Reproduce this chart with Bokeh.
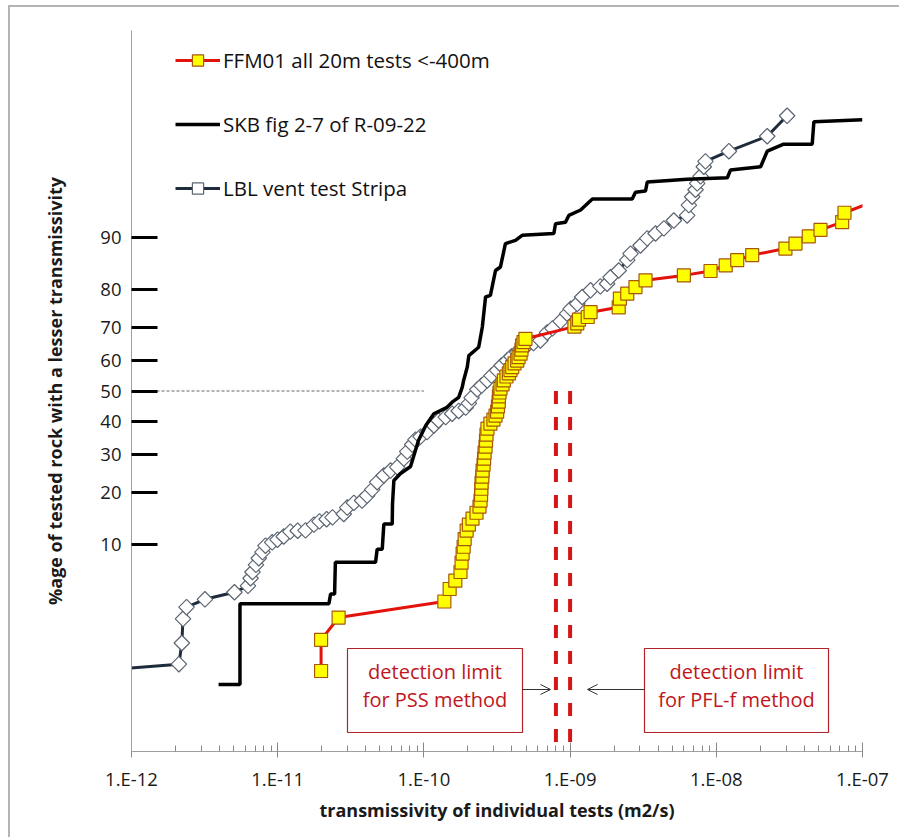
import math
from statistics import NormalDist
from bokeh.plotting import figure
from bokeh.models import (ColumnDataSource, FixedTicker, CustomJSTickFormatter, Legend,
                          LegendItem, BoxAnnotation, Label, Arrow, OpenHead, Range1d)
from bokeh.embed import file_html
from bokeh.resources import INLINE

# ---------------- data ----------------
ffm_T = [1.98e-11, 1.98e-11, 2.61e-11, 1.38e-10, 1.50e-10, 1.64e-10, 1.78e-10, 1.81e-10, 1.84e-10, 1.87e-10,
         1.90e-10, 1.96e-10, 2.03e-10, 2.15e-10, 2.29e-10, 2.40e-10, 2.44e-10, 2.46e-10, 2.47e-10, 2.48e-10,
         2.51e-10, 2.52e-10, 2.56e-10, 2.58e-10, 2.60e-10, 2.64e-10, 2.66e-10, 2.68e-10, 2.72e-10, 2.85e-10,
         2.99e-10, 3.09e-10, 3.17e-10, 3.21e-10, 3.25e-10, 3.26e-10, 3.29e-10, 3.34e-10, 3.45e-10, 3.52e-10,
         3.67e-10, 3.81e-10, 3.91e-10, 4.02e-10, 4.17e-10, 4.35e-10, 4.44e-10, 4.58e-10, 4.65e-10, 4.70e-10,
         4.80e-10, 4.95e-10, 1.07e-9, 1.12e-9, 1.15e-9, 1.32e-9, 1.38e-9, 2.15e-9, 2.19e-9, 2.46e-9,
         2.80e-9, 3.28e-9, 6.00e-9, 9.13e-9, 1.16e-8, 1.39e-8, 1.76e-8, 2.97e-8, 3.48e-8, 4.29e-8,
         5.16e-8, 7.26e-8, 7.53e-8, 1.33e-7]
ffm_pct = [0.99, 1.92, 2.97, 3.99, 4.97, 5.72, 6.6, 7.65, 8.8, 9.75,
           10.9, 12.25, 13.3, 14.4, 15.55, 16.8, 18.1, 19.4, 20.8, 22.3,
           23.8, 25.4, 27.0, 28.7, 30.4, 32.2, 34.0, 35.85, 37.7, 39.3,
           40.6, 41.9, 43.2, 44.9, 46.5, 48.2, 49.5, 50.8, 52.2, 53.5,
           54.8, 55.8, 56.9, 57.9, 59.1, 60.0, 61.1, 62.2, 63.5, 64.8,
           65.8, 66.8, 70.4, 71.3, 72.4, 73.1, 74.4, 75.7, 77.9, 79.1,
           80.65, 82.15, 83.2, 84.1, 85.2, 86.2, 87.1, 88.2, 89.0, 90.1,
           91.0, 92.0, 93.1, 94.5]

skb_T = [3.94e-12, 5.52e-12, 5.52e-12, 2.24e-11, 2.30e-11, 2.45e-11, 2.48e-11, 4.67e-11, 4.79e-11, 5.19e-11,
         5.32e-11, 6.07e-11, 6.10e-11, 6.23e-11, 6.92e-11, 8.10e-11, 9.18e-11, 1.03e-10, 1.17e-10, 1.44e-10,
         1.56e-10, 1.73e-10, 1.83e-10, 1.87e-10, 1.98e-10, 2.03e-10, 2.37e-10, 2.51e-10, 2.64e-10, 2.85e-10,
         3.09e-10, 3.34e-10, 3.61e-10, 4.23e-10, 4.70e-10, 7.74e-10, 7.95e-10, 9.30e-10, 9.80e-10, 1.18e-9,
         1.42e-9, 2.66e-9, 2.80e-9, 3.28e-9, 3.37e-9, 6.32e-9, 1.19e-8, 1.25e-8, 2.01e-8, 2.23e-8,
         2.89e-8, 4.53e-8, 4.65e-8, 1.0e-7]
skb_pct = [0.73, 0.73, 3.83, 3.83, 4.55, 4.55, 7.7, 7.7, 9.4, 9.4,
           13.4, 13.4, 17.4, 22.8, 24.6, 26.5, 34.0, 38.7, 42.5, 44.6,
           46.3, 47.9, 51.3, 53.5, 57.9, 61.6, 64.2, 70.3, 78.3, 78.7,
           84.2, 84.9, 89.0, 89.5, 90.25, 90.5, 91.8, 92.0, 92.8, 93.4,
           94.5, 94.5, 95.1, 95.2, 95.9, 96.1, 96.2, 96.7, 96.9, 97.7,
           98.0, 98.0, 98.75, 98.8]

lbl_T = [6.0e-13, 2.11e-12, 2.21e-12, 2.25e-12, 2.38e-12, 3.18e-12, 5.06e-12, 6.26e-12, 6.52e-12, 6.72e-12,
         7.10e-12, 7.42e-12, 7.87e-12, 8.25e-12, 9.17e-12, 9.97e-12, 1.10e-11, 1.22e-11, 1.37e-11, 1.55e-11,
         1.77e-11, 1.93e-11, 2.16e-11, 2.37e-11, 2.83e-11, 2.99e-11, 3.32e-11, 3.78e-11, 4.09e-11, 4.43e-11,
         4.79e-11, 5.32e-11, 5.91e-11, 6.57e-11, 7.29e-11, 7.69e-11, 8.32e-11, 8.76e-11, 9.48e-11, 1.05e-10,
         1.17e-10, 1.26e-10, 1.41e-10, 1.56e-10, 1.73e-10, 1.93e-10, 2.03e-10, 2.12e-10, 2.32e-10, 2.48e-10,
         2.71e-10, 2.90e-10, 3.17e-10, 3.40e-10, 3.71e-10, 3.97e-10, 4.35e-10, 4.65e-10, 5.09e-10, 5.62e-10,
         6.27e-10, 6.97e-10, 7.58e-10, 8.60e-10, 9.55e-10, 1.01e-9, 1.12e-9, 1.21e-9, 1.38e-9, 1.61e-9,
         1.79e-9, 1.89e-9, 2.15e-9, 2.46e-9, 2.59e-9, 3.03e-9, 3.37e-9, 3.84e-9, 4.38e-9, 5.12e-9,
         6.32e-9, 6.49e-9, 6.84e-9, 7.21e-9, 7.40e-9, 7.80e-9, 8.21e-9, 8.43e-9, 1.22e-8, 2.23e-8,
         3.05e-8]
lbl_pct = [1.0, 1.15, 1.8, 2.9, 3.6, 4.15, 4.7, 5.25, 5.96, 6.6,
           7.4, 8.2, 9.0, 9.9, 10.4, 10.8, 11.3, 12.1, 12.25, 12.3,
           13.3, 13.9, 14.3, 14.65, 15.3, 16.6, 17.6, 18.1, 19.2, 20.6,
           22.4, 24.1, 25.4, 26.3, 28.7, 30.7, 32.8, 34.3, 35.2, 36.6,
           38.7, 40.3, 41.4, 42.5, 43.4, 44.5, 45.9, 47.8, 50.5, 51.8,
           53.5, 55.1, 56.8, 58.4, 60.0, 61.3, 62.7, 63.8, 64.8, 65.5,
           66.3, 68.7, 69.9, 71.9, 74.0, 75.3, 76.6, 78.3, 79.9, 80.8,
           81.4, 82.8, 84.2, 86.2, 87.35, 88.7, 89.8, 90.5, 91.2, 92.2,
           92.8, 93.9, 94.7, 95.3, 95.8, 96.3, 96.9, 97.2, 97.7, 98.3,
           98.9]

pct_ticks = [10, 20, 30, 40, 50, 60, 70, 80, 90]
x_ticks = [1e-12, 1e-11, 1e-10, 1e-9, 1e-8, 1e-7]
detection_limits = [8e-10, 1e-9]
median_pct = 50
median_line_T = [1e-12, 1e-10]

series_names = ["FFM01 all 20m tests <-400m", "SKB fig 2-7 of R-09-22", "LBL vent test Stripa"]
x_title = "transmissivity of individual tests (m2/s)"
y_title = "%age of tested rock with a lesser transmissivity"
box_texts = [["detection limit", "for PSS method"], ["detection limit", "for PFL-f method"]]

# ---------------- probability (normal-score) transform ----------------
nd = NormalDist()
def z(p):
    return nd.inv_cdf(p / 100.0)

FONT = "Open Sans"

# page: 8px left margin + 2px border, 5px top margin + 2px border
p = figure(width=891, height=832, x_axis_type="log",
           x_range=Range1d(1e-12, 1e-7), y_range=Range1d(-3, 3),
           output_backend="svg", toolbar_location=None,
           min_border_left=121, min_border_right=39, min_border_top=23, min_border_bottom=88)
p.margin = (5, 0, 0, 8)
p.styles = {"border-left": "2px solid #b4b4b4", "border-top": "2px solid #b4b4b4"}
p.grid.visible = False
p.outline_line_color = None
p.background_fill_color = "white"
p.border_fill_color = "white"

# axes
tick_z = [z(v) for v in pct_ticks]
p.yaxis.ticker = FixedTicker(ticks=tick_z, minor_ticks=[])
p.yaxis.formatter = CustomJSTickFormatter(args=dict(zs=tick_z, labs=[str(v) for v in pct_ticks]), code="""
let best = 0;
for (let i = 0; i < zs.length; i++) {
  if (Math.abs(zs[i] - tick) < Math.abs(zs[best] - tick)) { best = i; }
}
return labs[best];
""")
p.yaxis.major_tick_in = 26
p.yaxis.major_tick_out = 0
p.yaxis.major_tick_line_width = 3
p.yaxis.major_tick_line_color = "black"
p.yaxis.axis_line_color = "#a0a0a0"
p.yaxis.major_label_standoff = 10
p.yaxis.axis_label = y_title
p.yaxis.axis_label_standoff = 30

x_minor = [k * t for t in x_ticks[:-1] for k in range(2, 10)]
p.xaxis.ticker = FixedTicker(ticks=x_ticks, minor_ticks=x_minor)
p.xaxis.formatter = CustomJSTickFormatter(code="""
const e = Math.round(Math.log10(tick));
const a = Math.abs(e);
return "1.E" + (e < 0 ? "-" : "+") + (a < 10 ? "0" + a : "" + a);
""")
p.xaxis.major_tick_in = 9
p.xaxis.major_tick_out = 6
p.xaxis.minor_tick_in = 6
p.xaxis.minor_tick_out = 0
p.xaxis.major_tick_line_color = "#888888"
p.xaxis.minor_tick_line_color = "#888888"
p.xaxis.axis_line_color = "#a0a0a0"
p.xaxis.major_label_standoff = 8
p.xaxis.axis_label = x_title
p.xaxis.axis_label_standoff = 4

for ax in (p.xaxis, p.yaxis):
    ax.major_label_text_font = FONT
    ax.major_label_text_font_size = "18.5px"
    ax.major_label_text_color = "#1a1a1a"
    ax.axis_label_text_font = FONT
    ax.axis_label_text_font_size = "18px"
    ax.axis_label_text_font_style = "bold"
    ax.axis_label_text_color = "#1a1a1a"

# 50% reference line
p.line(median_line_T, [z(median_pct)] * 2, line_color="#666666", line_width=1, line_dash="3 2")

# detection limit lines (from 50% downwards)
for dl in detection_limits:
    p.line([dl, dl], [z(median_pct), z(0.05)], line_color="#d41616", line_width=4, line_dash="13 13")

# series
lbl_src = ColumnDataSource(dict(x=lbl_T, y=[z(v) for v in lbl_pct]))
skb_src = ColumnDataSource(dict(x=skb_T, y=[z(v) for v in skb_pct]))
ffm_src = ColumnDataSource(dict(x=ffm_T, y=[z(v) for v in ffm_pct]))

lbl_line = p.line("x", "y", source=lbl_src, line_color="#1d2b3a", line_width=3)
lbl_pts = p.scatter("x", "y", source=lbl_src, marker="square", angle=math.pi / 4, size=11,
                    fill_color="white", line_color="#5c6672", line_width=1.2)
skb_line = p.line("x", "y", source=skb_src, line_color="black", line_width=3.5)
ffm_line = p.line("x", "y", source=ffm_src, line_color="#e3120b", line_width=3)
ffm_pts = p.scatter("x", "y", source=ffm_src, marker="square", size=13,
                    fill_color="#ffff00", line_color="#a8570a", line_width=1.2)

legend = Legend(items=[LegendItem(label=series_names[0], renderers=[ffm_line, ffm_pts]),
                       LegendItem(label=series_names[1], renderers=[skb_line]),
                       LegendItem(label=series_names[2], renderers=[lbl_line, lbl_pts])],
                location=(44, 549), orientation="vertical",
                glyph_width=45, glyph_height=28, label_height=28, label_standoff=3,
                spacing=36, padding=0, margin=0,
                background_fill_alpha=0, border_line_color=None,
                label_text_font=FONT, label_text_font_size="20.5px", label_text_color="#111111")
p.add_layout(legend, "center")

# detection-limit annotation boxes (screen units, relative to the frame)
boxes = [(216, 391), (513, 697)]
for (l, r), lines in zip(boxes, box_texts):
    p.add_layout(BoxAnnotation(left=l, right=r, bottom=19, top=103,
                               left_units="screen", right_units="screen",
                               top_units="screen", bottom_units="screen",
                               fill_color="white", fill_alpha=1,
                               line_color="#b0242a", line_alpha=1, line_width=1.2))
    cx = (l + r) / 2
    for ty, txt in zip((80, 52), lines):
        p.add_layout(Label(x=cx, y=ty, x_units="screen", y_units="screen", text=txt,
                           text_align="center", text_baseline="middle",
                           text_font=FONT, text_font_size="20px", text_color="#c0161c"))

p.add_layout(Arrow(x_start=391, y_start=62, x_end=419, y_end=62,
                   start_units="screen", end_units="screen",
                   line_color="#333333", line_width=1,
                   end=OpenHead(size=10, line_color="#333333", line_width=1)))
p.add_layout(Arrow(x_start=513, y_start=62, x_end=456, y_end=62,
                   start_units="screen", end_units="screen",
                   line_color="#333333", line_width=1,
                   end=OpenHead(size=10, line_color="#333333", line_width=1)))

open("out.html", "w").write(file_html(p, INLINE))
